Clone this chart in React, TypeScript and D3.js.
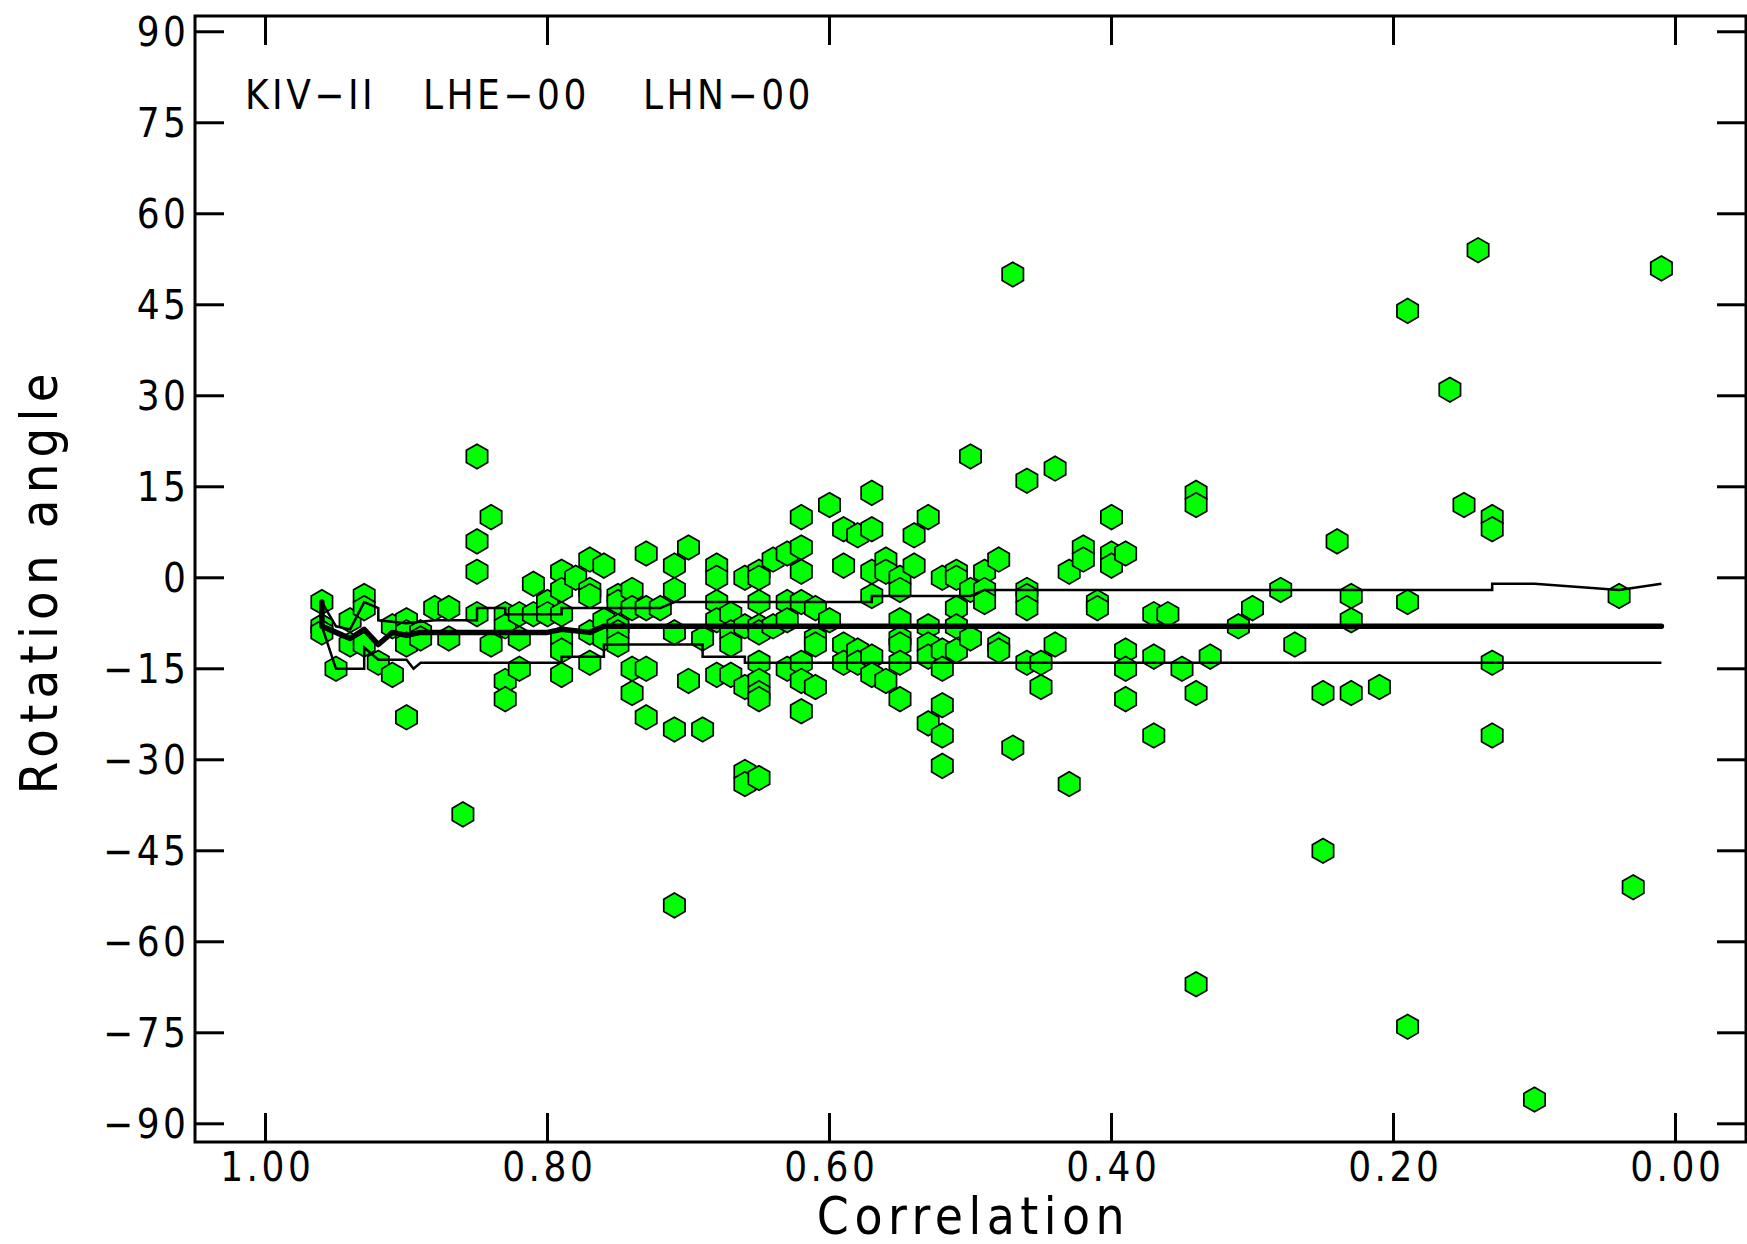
import React from "react";
import * as d3 from "d3";

// correlation columns and the rotation angles read at each column
const corrCols = [0.96, 0.95, 0.94, 0.93, 0.92, 0.91, 0.90, 0.89, 0.88, 0.87, 0.86, 0.85, 0.84, 0.83, 0.82, 0.81, 0.80,
  0.79, 0.78, 0.77, 0.76, 0.75, 0.74, 0.73, 0.72, 0.71, 0.70, 0.69, 0.68, 0.67, 0.66, 0.65, 0.64, 0.63, 0.62, 0.61, 0.60,
  0.59, 0.58, 0.57, 0.56, 0.55, 0.54, 0.53, 0.52, 0.51, 0.50, 0.49, 0.48, 0.47, 0.46, 0.45, 0.44, 0.43, 0.42, 0.41, 0.40,
  0.39, 0.37, 0.36, 0.35, 0.34, 0.33, 0.31, 0.30, 0.28, 0.27, 0.25, 0.24, 0.23, 0.21, 0.19, 0.16, 0.15, 0.14, 0.13,
  0.10, 0.04, 0.03, 0.01];

const angleCols = [
  [-4, -8, -9], [-15], [-7, -11], [-3, -5, -11], [-14], [-8, -16], [-7, -9, -11, -23], [-9, -10], [-5], [-5, -10], [-39],
  [20, 6, 1, -6], [10, -11], [-6, -8, -17, -20], [-6, -10, -15], [-1, -6], [-4, -6],
  [1, -2, -6, -10, -12, -16], [0], [3, -2, -3, -9, -14], [2, -7, -10], [-3, -4, -8, -9, -11], [-2, -5, -15, -19],
  [4, -5, -15, -23], [-5], [2, -2, -9, -25, -54], [5, -17], [-10, -25], [2, 0, -4, -7, -16], [-6, -9, -11, -16],
  [0, -8, -18, -32, -34], [1, 0, -4, -8, -9, -14, -17, -19, -20, -33], [3, -8], [4, -4, -7, -15],
  [10, 5, 1, -4, -14, -17, -22], [-5, -10, -11, -18], [12, -7],
  [8, 2, -11, -14], [7, -12, -14], [14, 8, 1, -3, -13, -16], [3, 1, -17], [0, -2, -7, -10, -11, -14, -20], [7, 2],
  [10, -8, -11, -13, -24], [0, -12, -15, -21, -26, -31], [1, 0, -5, -8, -12], [20, -2, -10], [1, -2, -4],
  [3, -11, -12], [50, -28], [16, -2, -3, -5, -14], [-14, -18], [18, -11], [1, -34], [5, 3], [-4, -5], [10, 4, 2],
  [4, -12, -15, -20], [-6, -13, -26], [-6], [-15], [14, 12, -19, -67], [-13], [-8], [-5], [-2], [-11], [-19, -45],
  [6], [-3, -7, -19], [-18], [44, -4, -74], [31], [12], [54], [10, 8, -14, -26],
  [-86], [-3], [-51], [51],
];

// running median and the two quartile curves
const medianCorr = [0.96, 0.96, 0.95, 0.94, 0.93, 0.92, 0.91, 0.90, 0.89, 0.80, 0.79, 0.77, 0.76, 0.01];
const medianAngle = [-4, -8, -9, -10, -8.5, -11, -9, -9.5, -9, -9, -8.5, -9, -8, -8];

const upperCorr = [0.96, 0.95, 0.94, 0.93, 0.92, 0.92, 0.90, 0.88, 0.85, 0.85, 0.83, 0.83, 0.79, 0.79, 0.72, 0.71,
  0.57, 0.57, 0.50, 0.49, 0.13, 0.13, 0.10, 0.04, 0.01];
const upperAngle = [-4, -8, -8.5, -4, -5, -7, -7.5, -7, -7, -5, -5, -6, -6, -5, -5, -4,
  -4, -3, -3, -2, -2, -1, -1, -2, -1];

const lowerCorr = [0.96, 0.95, 0.93, 0.93, 0.92, 0.90, 0.895, 0.89, 0.79, 0.79, 0.76, 0.76, 0.69, 0.69, 0.66, 0.66, 0.01];
const lowerAngle = [-8, -15, -15, -11.5, -13.5, -13.5, -15, -14, -14, -13, -13, -11, -11, -13, -13, -14, -14];

const xTicks = [1.0, 0.8, 0.6, 0.4, 0.2, 0.0];
const yTicks = [90, 75, 60, 45, 30, 15, 0, -15, -30, -45, -60, -75, -90];
const stations = ["KIV−II", "LHE−00", "LHN−00"];

const W = 1747;
const H = 1244;
const left = 195, right = 1746, top = 16, bottom = 1142;
const font = "'Liberation Sans Narrow', 'DejaVu Sans Condensed', 'Liberation Sans', sans-serif";

const x = d3.scaleLinear().domain([1.05, -0.05]).range([left, right]);
const y = d3.scaleLinear().domain([-93, 92.6]).range([bottom, top]);

const hexR = 12.3;
const hexPath = d3.range(6)
  .map((k) => {
    const a = ((-90 + k * 60) * Math.PI) / 180;
    return `${k === 0 ? "M" : "L"}${(hexR * Math.cos(a)).toFixed(2)},${(hexR * Math.sin(a)).toFixed(2)}`;
  })
  .join("") + "Z";

const fmtNeg = (v: number) => (v < 0 ? "−" + Math.abs(v) : String(v));

export default function App() {
  const points = corrCols.flatMap((c, i) => angleCols[i].map((a) => ({ c, a })));
  const line = d3.line<[number, number]>().x((d) => x(d[0])).y((d) => y(d[1]));
  const zip = (xs: number[], ys: number[]) => xs.map((v, i) => [v, ys[i]] as [number, number]);
  const tickLen = 29;
  const tickLs = 3.5;

  return (
    <div style={{ position: "absolute", left: 0, top: 0 }}>
      <svg width={W} height={H} style={{ display: "block", background: "#fff" }}>
        {/* markers */}
        <g>
          {points.map((p, i) => (
            <path key={i} d={hexPath} transform={`translate(${x(p.c)},${y(p.a)})`}
              fill="#00ff00" stroke="#000" strokeWidth={1.7} />
          ))}
        </g>

        {/* running statistics */}
        <path d={line(zip(upperCorr, upperAngle)) || ""} fill="none" stroke="#000" strokeWidth={2.5} />
        <path d={line(zip(lowerCorr, lowerAngle)) || ""} fill="none" stroke="#000" strokeWidth={2.5} />
        <path d={line(zip(medianCorr, medianAngle)) || ""} fill="none" stroke="#000" strokeWidth={5.5}
          strokeLinejoin="round" strokeLinecap="round" />

        {/* frame and ticks */}
        <rect x={left} y={top} width={right - left} height={bottom - top} fill="none" stroke="#000" strokeWidth={3} />
        {yTicks.map((t) => (
          <g key={"y" + t}>
            <line x1={left} x2={left + tickLen} y1={y(t)} y2={y(t)} stroke="#000" strokeWidth={3} />
            <line x1={right - tickLen} x2={right} y1={y(t)} y2={y(t)} stroke="#000" strokeWidth={3} />
            <text x={186 + tickLs} y={y(t) + 14} textAnchor="end" fontFamily={font} fontSize={40}
              letterSpacing={tickLs}>
              {fmtNeg(t)}
            </text>
          </g>
        ))}
        {xTicks.map((t) => (
          <g key={"x" + t}>
            <line x1={x(t)} x2={x(t)} y1={bottom} y2={bottom - tickLen} stroke="#000" strokeWidth={3} />
            <line x1={x(t)} x2={x(t)} y1={top} y2={top + tickLen} stroke="#000" strokeWidth={3} />
            <text x={x(t) + tickLs / 2} y={1181} textAnchor="middle" fontFamily={font} fontSize={40}
              letterSpacing={tickLs}>
              {t.toFixed(2)}
            </text>
          </g>
        ))}

        {/* station labels */}
        {stations.map((s, i) => (
          <text key={s} x={[245, 423, 643][i]} y={109} fontFamily={font} fontSize={40} letterSpacing={3.5}>{s}</text>
        ))}

        {/* axis titles */}
        <text x={(left + right) / 2 + 3} y={1234} textAnchor="middle" fontFamily={font} fontSize={51} letterSpacing={5.5}>
          Correlation
        </text>
        <text transform={`translate(57,${y(0) + 3}) rotate(-90)`} textAnchor="middle" fontFamily={font} fontSize={52}
          letterSpacing={6.2}>
          Rotation angle
        </text>
      </svg>
    </div>
  );
}
